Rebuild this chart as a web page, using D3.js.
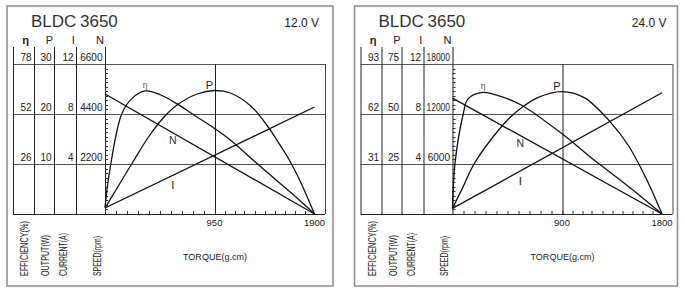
<!DOCTYPE html>
<html>
<head>
<meta charset="utf-8">
<script src="https://cdnjs.cloudflare.com/ajax/libs/d3/7.8.5/d3.min.js"></script>
<style>
    html, body { margin: 0; padding: 0; background: #fff; }
    svg { display: block; font-family: "Liberation Sans", Arial, sans-serif; }
</style>
</head>
<body>
<svg id="chart" width="685" height="292"></svg>
<script>
// 电机型号 / 电压
var modelName = ["BLDC", "3650"];
var voltages = ["12.0 V", "24.0 V"];
var torqueMax = [1900, 1800];

// 左侧刻度标签 (从下到上)
var etaTicks = [[26, 52, 78], [31, 62, 93]];
var powerTicks = [[10, 20, 30], [25, 50, 75]];
var currentTicks = [[4, 8, 12], [4, 8, 12]];
var speedTicks = [[2200, 4400, 6600], [6000, 12000, 18000]];
var torqueTicks = [[950, 1900], [900, 1800]];

// 12.0 V 曲线
var etaTorque12 = [0, 50, 145, 232, 349, 479, 619, 784, 950, 1100, 1400, 1700, 1900];
var eta12 = [3.6, 26, 52, 60, 64, 62, 57.5, 51, 44.5, 38.5, 24, 10, 0];
var powerTorque12 = [0, 100, 247, 380, 508, 625, 800, 950, 1100, 1300, 1450, 1530, 1650, 1750, 1900];
var power12 = [1.2, 5, 10.6, 15.5, 19.3, 21.8, 24, 24.7, 24.2, 21.5, 17.7, 15.2, 11.2, 7.2, 0];
var lineTorque12 = [0, 1900];
var speed12 = [5280, 0];
var current12 = [0.48, 8.56];

// 24.0 V 曲线
var etaTorque24 = [0, 20, 88, 129, 251, 401, 565, 906, 1160, 1490, 1800];
var eta24 = [3.5, 31, 62, 71.5, 75.4, 72.7, 67.6, 49.4, 35, 17.5, 0];
var powerTorque24 = [0, 80, 177, 320, 468, 565, 700, 900, 1100, 1332, 1500, 1650, 1800];
var power24 = [2.8, 12.7, 25, 37.5, 48, 53, 58.2, 61.2, 58.2, 46.2, 34, 18.6, 0];
var lineTorque24 = [0, 1800];
var speed24 = [13900, 0];
var current24 = [0.45, 9.7];

var axisNames = ["EFFICIENCY(%)", "OUTPUT(W)", "CURRENT(A)", "SPEED(rpm)"];
var symbols = ["\u03b7", "P", "I", "N"];

var panels = [
    {dx: 0, boxRight: 333, volt: voltages[0], tMax: torqueMax[0],
        ticks: [etaTicks[0], powerTicks[0], currentTicks[0], speedTicks[0]], tTicks: torqueTicks[0],
        eta: d3.zip(etaTorque12, eta12), power: d3.zip(powerTorque12, power12),
        speed: d3.zip(lineTorque12, speed12), current: d3.zip(lineTorque12, current12)},
    {dx: 347.5, boxRight: 330, volt: voltages[1], tMax: torqueMax[1],
        ticks: [etaTicks[1], powerTicks[1], currentTicks[1], speedTicks[1]], tTicks: torqueTicks[1],
        eta: d3.zip(etaTorque24, eta24), power: d3.zip(powerTorque24, power24),
        speed: d3.zip(lineTorque24, speed24), current: d3.zip(lineTorque24, current24)}
];

// 版面尺寸
var colX = [13, 34, 54, 76, 105];
var plotTop = 64, plotBottom = 214, colTop = 47, plotRight = 325;
var symbolX = [25.7, 49.3, 73.3, 100];
var nameX = [24, 45, 63.3, 96.7];
var nameLen = [55, 41, 43, 40];

var svg = d3.select('#chart');

panels.forEach(function (p) {
    var g = svg.append('g').attr('transform', 'translate(' + p.dx + ',0)');

    var x = d3.scaleLinear().domain([0, p.tMax / 2, p.tMax]).range([105, 214.5, 314.5]);
    var yOf = function (max) {
        return d3.scaleLinear().domain([0, max]).range([plotBottom, plotTop]);
    };
    var yEta = yOf(p.ticks[0][2]), yPow = yOf(p.ticks[1][2]),
        yCur = yOf(p.ticks[2][2]), ySpd = yOf(p.ticks[3][2]);

    // 外框
    g.append('rect')
        .attr('x', 7).attr('y', 6)
        .attr('width', p.boxRight - 7).attr('height', 280)
        .attr('fill', 'none').attr('stroke', '#8c8c8c').attr('stroke-width', 1.5);

    // 标题
    g.append('text').attr('x', 31).attr('y', 26.5)
        .attr('font-size', 17).attr('fill', '#333').text(modelName[0]);
    g.append('text').attr('x', 80).attr('y', 26.5)
        .attr('font-size', 17).attr('fill', '#333').text(modelName[1]);
    g.append('text').attr('x', 319).attr('y', 26.5).attr('text-anchor', 'end')
        .attr('font-size', 12).attr('fill', '#222').text(p.volt);

    // 列符号
    g.selectAll('text.sym').data(symbols).enter().append('text')
        .attr('class', 'sym')
        .attr('x', function (d, i) { return symbolX[i]; })
        .attr('y', 43.5)
        .attr('text-anchor', 'middle')
        .attr('font-size', 11)
        .attr('font-weight', function (d, i) { return i == 0 ? 'bold' : 'normal'; })
        .attr('fill', '#222')
        .text(function (d) { return d; });

    // 水平网格线
    [0, 1, 2].forEach(function (k) {
        var yy = Math.round(ySpd(p.ticks[3][k])) + 0.5;
        g.append('line').attr('x1', colX[0]).attr('x2', plotRight)
            .attr('y1', yy).attr('y2', yy)
            .attr('stroke', '#555').attr('stroke-width', 1);
        // 各列数值
        p.ticks.forEach(function (arr, c) {
            var label = String(arr[k]);
            var t = g.append('text')
                .attr('x', colX[c + 1] - 2.5)
                .attr('y', yy - 4)
                .attr('text-anchor', 'end')
                .attr('font-size', 10)
                .attr('fill', '#222')
                .text(label);
            if (label.length > 4) {
                t.attr('textLength', 23.5).attr('lengthAdjust', 'spacingAndGlyphs');
            }
        });
    });

    // 底部轴线 与 右边框
    g.append('line').attr('x1', colX[0]).attr('x2', plotRight)
        .attr('y1', plotBottom + 0.5).attr('y2', plotBottom + 0.5)
        .attr('stroke', '#222');
    g.append('line').attr('x1', plotRight + 0.5).attr('x2', plotRight + 0.5)
        .attr('y1', plotTop).attr('y2', plotBottom)
        .attr('stroke', '#444');
    // 列竖线
    g.selectAll('line.col').data(colX).enter().append('line')
        .attr('class', 'col')
        .attr('x1', function (d) { return d + 0.5; })
        .attr('x2', function (d) { return d + 0.5; })
        .attr('y1', colTop).attr('y2', plotBottom)
        .attr('stroke', '#222');
    // 中间竖线
    var xm = Math.round(x(p.tTicks[0])) + 0.5;
    g.append('line').attr('x1', xm).attr('x2', xm)
        .attr('y1', plotTop).attr('y2', plotBottom)
        .attr('stroke', '#222');

    // 转速轴小刻度
    var spdMinor = d3.range(1, 33).map(function (i) { return p.ticks[3][2] * i / 33; });
    g.selectAll('line.sTick').data(spdMinor).enter().append('line')
        .attr('class', 'sTick')
        .attr('x1', 105).attr('x2', 108)
        .attr('y1', function (d) { return Math.round(ySpd(d)) + 0.5; })
        .attr('y2', function (d) { return Math.round(ySpd(d)) + 0.5; })
        .attr('stroke', '#333');

    // 扭矩轴小刻度
    var tMinor = d3.range(1, 20).map(function (i) { return p.tMax * i / 20; });
    g.selectAll('line.tTick').data(tMinor).enter().append('line')
        .attr('class', 'tTick')
        .attr('x1', function (d) { return Math.round(x(d)) + 0.5; })
        .attr('x2', function (d) { return Math.round(x(d)) + 0.5; })
        .attr('y1', plotBottom - 3).attr('y2', plotBottom)
        .attr('stroke', '#333');

    g.selectAll('text.tLabel').data(p.tTicks).enter().append('text')
        .attr('class', 'tLabel')
        .attr('x', function (d) { return x(d); })
        .attr('y', 225.5)
        .attr('text-anchor', 'middle')
        .attr('font-size', 9.5)
        .attr('fill', '#222')
        .text(function (d) { return d; });

    // 曲线
    var curve = function (ys) {
        return d3.line()
            .x(function (d) { return x(d[0]); })
            .y(function (d) { return ys(d[1]); })
            .curve(d3.curveCatmullRom.alpha(0.5));
    };
    [[p.eta, yEta], [p.power, yPow], [p.speed, ySpd], [p.current, yCur]].forEach(function (s) {
        g.append('path')
            .attr('d', curve(s[1])(s[0]))
            .attr('fill', 'none')
            .attr('stroke', '#111')
            .attr('stroke-width', 1.3);
    });

    // 曲线标签
    var etaPeak = p.eta.reduce(function (a, b) { return b[1] > a[1] ? b : a; });
    var powPeak = p.power.reduce(function (a, b) { return b[1] > a[1] ? b : a; });
    g.append('text').attr('x', x(etaPeak[0])).attr('y', yEta(etaPeak[1]) - 3)
        .attr('text-anchor', 'middle').attr('font-size', 8.5).attr('fill', '#555')
        .text('\u03b7');
    g.append('text').attr('x', x(powPeak[0]) - 5).attr('y', yPow(powPeak[1]) - 2)
        .attr('text-anchor', 'middle').attr('font-size', 11).attr('fill', '#222')
        .text('P');
    var tLab = p.tMax * 0.31;
    var spdAt = d3.scaleLinear().domain([p.speed[0][0], p.speed[1][0]]).range([p.speed[0][1], p.speed[1][1]]);
    var curAt = d3.scaleLinear().domain([p.current[0][0], p.current[1][0]]).range([p.current[0][1], p.current[1][1]]);
    g.append('text').attr('x', x(tLab)).attr('y', ySpd(spdAt(tLab)) + 13)
        .attr('text-anchor', 'middle').attr('font-size', 10.5).attr('fill', '#333')
        .text('N');
    g.append('text').attr('x', x(tLab)).attr('y', yCur(curAt(tLab)) + 12)
        .attr('text-anchor', 'middle').attr('font-size', 11.5).attr('fill', '#222')
        .text('I');

    // 底部竖排名称
    g.selectAll('text.name').data(axisNames).enter().append('text')
        .attr('class', 'name')
        .attr('transform', function (d, i) {
            return 'translate(' + (nameX[i] + 4) + ',276) rotate(-90)';
        })
        .attr('font-size', 11)
        .attr('textLength', function (d, i) { return nameLen[i]; })
        .attr('lengthAdjust', 'spacingAndGlyphs')
        .attr('fill', '#222')
        .text(function (d) { return d; });

    g.append('text').attr('x', 215).attr('y', 259.5)
        .attr('text-anchor', 'middle').attr('font-size', 9.5)
        .attr('textLength', 64).attr('lengthAdjust', 'spacingAndGlyphs')
        .attr('fill', '#222')
        .text('TORQUE(g.cm)');
});
</script>
</body>
</html>
